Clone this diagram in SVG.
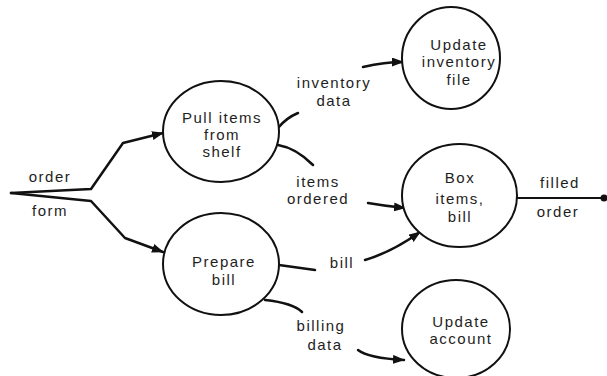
<svg xmlns="http://www.w3.org/2000/svg" width="607" height="376" viewBox="0 0 607 376">
<style>
.node ellipse{fill:#fff;stroke:#111;stroke-width:2}
text{font-family:"Liberation Sans",Arial,sans-serif;font-size:15px;fill:#1e1e1e;text-anchor:middle;letter-spacing:1.5px}
.conn path{fill:none;stroke:#111;stroke-width:2.5;stroke-linecap:round;stroke-linejoin:round}
</style>
<defs>
<marker id="ah" markerUnits="userSpaceOnUse" markerWidth="12" markerHeight="10" refX="11" refY="4.5" orient="auto">
<path d="M0,0 L12,4.5 L0,9 z" fill="#111"/>
</marker>
</defs>
<rect width="607" height="376" fill="#fff"/>
<g id="connectors" class="conn">
<path d="M11,193 L91,189 L123,143 L163,133" marker-end="url(#ah)"/>
<path d="M11,193 L91,201 L125,238 L163,252" marker-end="url(#ah)"/>
<path d="M278,128 Q286,118 298,113"/>
<path d="M278,145 Q296,148 313,165"/>
<path d="M363,67 Q385,62 403,62" marker-end="url(#ah)"/>
<path d="M368,203 Q385,206 405,208" marker-end="url(#ah)"/>
<path d="M279,265 L315,270"/>
<path d="M365,260 Q392,252 420,232" marker-end="url(#ah)"/>
<path d="M265,300 Q293,303 302,312"/>
<path d="M358,350 Q368,358 404,360" marker-end="url(#ah)"/>
<path d="M517,198 L603,198" style="stroke-width:2"/>
<circle cx="604" cy="198" r="3.5" fill="#111"/>
</g>
<g id="labels">
<text x="50" y="182">order</text>
<text x="50" y="216">form</text>
<text x="334" y="88">inventory</text>
<text x="334" y="106">data</text>
<text x="318" y="187">items</text>
<text x="318" y="204">ordered</text>
<text x="342" y="268">bill</text>
<text x="321" y="331">billing</text>
<text x="325" y="350">data</text>
<text x="560" y="188">filled</text>
<text x="558" y="217">order</text>
</g>
<g id="pull" class="node">
<ellipse cx="221" cy="131.5" rx="58" ry="50.5"/>
<text x="222" y="123">Pull items</text>
<text x="222" y="140">from</text>
<text x="222" y="157">shelf</text>
</g>
<g id="prepare" class="node">
<ellipse cx="221" cy="264" rx="58" ry="51"/>
<text x="224" y="267">Prepare</text>
<text x="224" y="285">bill</text>
</g>
<g id="inventory" class="node">
<ellipse cx="451" cy="58" rx="49" ry="51"/>
<text x="459" y="50">Update</text>
<text x="459" y="67">inventory</text>
<text x="459" y="85">file</text>
</g>
<g id="box" class="node">
<ellipse cx="459.5" cy="195.5" rx="57.5" ry="51.5"/>
<text x="460" y="183">Box</text>
<text x="460" y="204">items,</text>
<text x="460" y="222">bill</text>
</g>
<g id="account" class="node">
<ellipse cx="456" cy="329" rx="54" ry="49"/>
<text x="461" y="327">Update</text>
<text x="461" y="344">account</text>
</g>
</svg>
